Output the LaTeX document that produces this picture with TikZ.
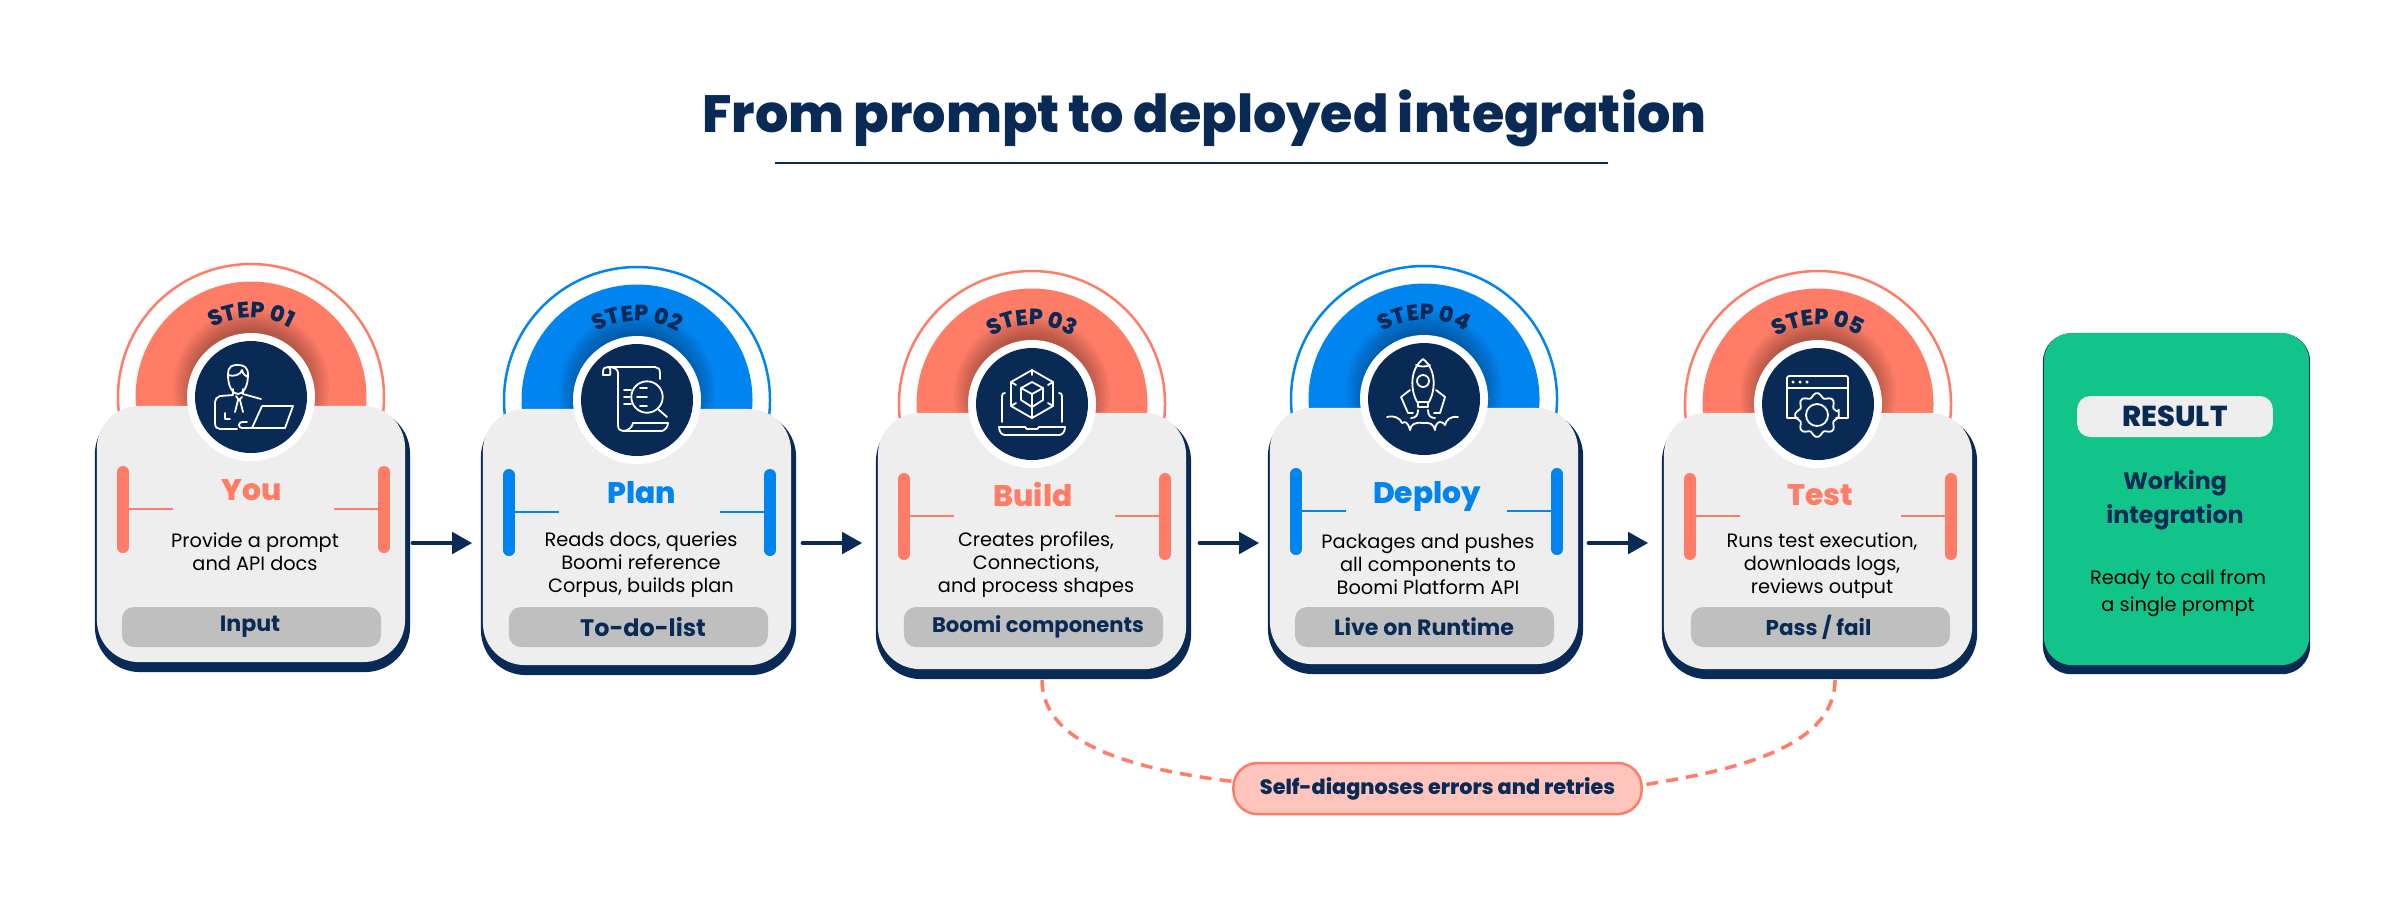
\documentclass[tikz,border=0pt]{standalone}
\usepackage{fontspec}
\setmainfont{Poppins}
\newfontfamily\pxb{Poppins ExtraBold}
\newfontfamily\pbd{Poppins Bold}
\newcommand\titlefont{\pxb\fontsize{14.9pt}{17pt}\selectfont\spaceskip=.175em\relax}
\usetikzlibrary{arrows.meta,decorations.text,calc}
\definecolor{navy}{HTML}{0A2A56}
\definecolor{coral}{HTML}{FF7D67}
\definecolor{sky}{HTML}{0084F0}
\definecolor{cardgray}{HTML}{EEEEEE}
\definecolor{pillgray}{HTML}{BFBFBF}
\definecolor{green1}{HTML}{10C48A}
\definecolor{pink1}{HTML}{FFC4BC}
\tikzset{
  iconline/.style={draw=white,line width=.018cm,line cap=round,line join=round},
  cardbase/.style={fill=cardgray,minimum width=3.08cm,minimum height=2.56cm,rounded corners=.42cm,inner sep=0pt},
  cardback/.style={fill=navy,minimum width=3.15cm,minimum height=2.63cm,rounded corners=.45cm,inner sep=0pt},
  barline/.style={line width=.12cm,line cap=round},
  tickline/.style={line width=.025cm},
  flow/.style={draw=navy,line width=.045cm,line cap=round,-{Triangle[length=.2cm,width=.21cm]}},
  retry/.style={draw=coral,line width=.035cm,dash pattern=on 3.4pt off 2.3pt},
  tagpill/.style={fill=pillgray,minimum width=2.59cm,minimum height=.40cm,rounded corners=.12cm,inner sep=0pt},
  tagtext/.style={text=navy,inner sep=0pt,font=\pbd\fontsize{#1}{7pt}\selectfont},
  headline/.style={anchor=base,inner sep=0pt,font=\pxb\fontsize{8.45pt}{9pt}\selectfont},
  bodytext/.style={align=center,text=black,font=\fontsize{5.5pt}{6.55pt}\selectfont,inner sep=0pt},
}
\newcommand\iconperson{%
  \draw[iconline] (-23,-22) .. controls (-23,-32) and (-18,-32) .. (-13,-32) .. controls (-7,-32) and (-3,-30) .. (-3,-22) .. controls (-3,-10) and (-8,-3) .. (-13,-3) .. controls (-18,-3) and (-23,-10) .. (-23,-22);
  \draw[iconline] (-23,-22) .. controls (-18,-20) and (-10,-22) .. (-9,-27) .. controls (-8,-22) and (-5,-21) .. (-3,-20);
  \draw[iconline] (-18,-8) -- (-18,-2) -- (-31,-1) .. controls (-34,0) and (-36,2) .. (-36,5) -- (-36,26) .. controls (-36,30) and (-34,32) .. (-31,32) -- (-14,32);
  \draw[iconline] (-8,-8) -- (-8,-3) -- (10,2);
  \draw[iconline] (-26,16) -- (-26,22) -- (-21,22);
  \draw[iconline] (-15,-1) -- (-12,3) -- (-9,0) (-13,3) -- (-16,15) (-11,3) -- (-8,15);
  \draw[iconline] (11,9) -- (42,9) -- (34,31) -- (-9,31) .. controls (-13,31) and (-13,25) .. (-9,25) -- (-4,25) (1,31) -- (11,9);
}
\newcommand\iconscroll{%
  \draw[iconline] (-34,-25) -- (-34,-28) .. controls (-34,-32) and (-32,-33) .. (-29,-33) -- (18,-33) .. controls (21,-33) and (23,-31) .. (23,-27) -- (23,-21);
  \draw[iconline] (-34,-25) -- (-27,-25) .. controls (-26,-29) and (-27,-33) .. (-29,-33) (-29,-33) .. controls (-23,-33) and (-19,-31) .. (-19,-27) -- (-19,25) .. controls (-19,29) and (-17,31) .. (-14,31) -- (25,31) .. controls (28,30) and (31,27) .. (31,23) -- (-4,23) .. controls (-5,26) and (-6,30) .. (-14,31);
  \draw[iconline] (10,-3) circle[radius=15.7];
  \draw[iconline] (21,9) -- (30,17);
  \draw[iconline] (3,-12) -- (10,-12) (0,-3) -- (10,-3) (3,6) -- (10,6);
  \draw[iconline] (-13,-10) -- (-6,-10) (-13,-3) -- (-7,-3) (-13,4) -- (-6,4);
}
\newcommand\iconcube{%
  \draw[iconline] (0,-34) -- (21,-22) -- (21,2) -- (0,14) -- (-21,2) -- (-21,-22) -- cycle;
  \draw[iconline] (0,-22) -- (11,-16) -- (11,-4) -- (0,3) -- (-11,-4) -- (-11,-16) -- cycle;
  \draw[iconline] (0,-10) -- (-11,-16) (0,-10) -- (11,-16) (0,-10) -- (0,3);
  \draw[iconline] (0,3) -- (0,14) (0,-34) -- (0,-29) (-21,-22) -- (-16,-19) (21,-22) -- (16,-19) (-21,2) -- (-16,-1) (21,2) -- (16,-1);
  \draw[iconline] (-30,18) -- (-30,-8) .. controls (-30,-10) and (-29,-11) .. (-27,-11);
  \draw[iconline] (30,18) -- (30,-8) .. controls (30,-10) and (29,-11) .. (27,-11);
  \draw[iconline] (-33,23) -- (-7,23) -- (-5,25) -- (5,25) -- (7,23) -- (33,23) .. controls (33,28) and (30,31) .. (27,31) -- (-27,31) .. controls (-30,31) and (-33,28) .. (-33,23) -- cycle;
}
\newcommand\iconrocket{%
  \draw[iconline] (-7,3) .. controls (-14,-10) and (-14,-30) .. (-1,-40) .. controls (12,-30) and (12,-10) .. (5,3) -- cycle;
  \draw[iconline] (-8,-34) .. controls (-4,-32) and (2,-32) .. (6,-34);
  \draw[iconline] (-1,-18) circle[radius=6];
  \draw[iconline] (-6,3) -- (-6,8) -- (4,8) -- (4,3);
  \draw[iconline] (-14,-9) -- (-23,-2) -- (-16,14) -- (-11,14);
  \draw[iconline] (12,-9) -- (21,-2) -- (16,14) -- (10,14);
  \draw[iconline] (-13,19) .. controls (-8,19) and (-6,16) .. (-6,11);
  \draw[iconline] (4,11) .. controls (4,16) and (6,19) .. (11,19);
  \draw[iconline] (-37,18) .. controls (-30,16) and (-24,19) .. (-22,24) .. controls (-19,22) and (-16,23) .. (-14,31) .. controls (-13,25) and (-9,23) .. (-1,24) .. controls (5,23) and (10,25) .. (11,31) .. controls (11,26) and (14,23) .. (16,23) .. controls (18,23) and (20,24) .. (21,26) .. controls (22,21) and (26,17) .. (34,18);
}
\newcommand\icongear{%
  \draw[iconline] (-20,14) -- (-31,14) -- (-31,-26) .. controls (-31,-27) and (-30,-28) .. (-29,-28) -- (28,-28) .. controls (29,-28) and (30,-27) .. (30,-26) -- (30,14) -- (18,14);
  \draw[iconline] (-31,-16) -- (30,-16);
  \fill[white] (-25,-22) circle[radius=1.7] (-18,-22) circle[radius=1.7] (-11,-22) circle[radius=1.7];
  \draw[iconline] (-1,11) circle[radius=11];
  \begin{scope}[shift={(-1,11)}]
    \draw[iconline,rounded corners=.02cm] (-9:22) \foreach \a in {0,45,...,315} { -- (\a+9:22) -- (\a+14:18) -- (\a+31:18) -- (\a+36:22)} -- cycle;
  \end{scope}
}
% #1 id, #2 cx, #3 cy, #4 colour, #5 step label, #6 icon
\newcommand\stepframe[6]{%
  \begin{scope}[shift={(#2,#3)}]
    \begin{scope}
      \clip (-145,-145) rectangle (145,25);
      \draw[#4,line width=.025cm] (0,0) circle[radius=133];
    \end{scope}
    \begin{scope}
      \clip (-125,-125) rectangle (125,10);
      \fill[#4] (0,0) circle[radius=115.5];
      \foreach \r in {58,60.5,...,79} {\fill[black,opacity=.035] (0,-10) circle[radius=\r];}
    \end{scope}
    \path[postaction={decorate},decoration={text along path,text align=center,
      text={|\color{navy}\pxb\fontsize{6.3pt}{7pt}\selectfont|#5}}]
      (-79,0) arc[start angle=180,end angle=0,radius=.79cm];
    \node[cardback] (sh#1) at (1.5,143.5) {};
    \node[cardbase] (card#1) at (0,137) {};
    \fill[white] (0,0) circle[radius=64];
    \fill[navy] (0,0) circle[radius=56];
    #6
    \draw[barline,#4] (-128,75) -- (-128,150) (133,75) -- (133,150);
    \draw[tickline,#4] (-128,112) -- (-78,112) (133,112) -- (83,112);
  \end{scope}
}
\begin{document}
\begin{tikzpicture}[x=.01cm,y=-.01cm]
\useasboundingbox (0,0) rectangle (2398,917);
\fill[white] (0,0) rectangle (2398,917);

\node[anchor=base,text=navy,font=\titlefont,inner sep=0pt] (title) at (1204.5,132) {From prompt to deployed integration};
\draw[navy,line width=.022cm] (775,163) -- (1608,163);

\stepframe{1}{251}{397}{coral}{STEP 01}{\iconperson}
\stepframe{2}{637}{400}{sky}{STEP 02}{\iconscroll}
\stepframe{3}{1032}{404}{coral}{STEP 03}{\iconcube}
\stepframe{4}{1424}{399}{sky}{STEP 04}{\iconrocket}
\stepframe{5}{1818}{404}{coral}{STEP 05}{\icongear}

\node[headline,text=coral] (t1) at (252,500) {You};
\node[headline,text=sky] (t2) at (642,503) {Plan};
\node[headline,text=coral] (t3) at (1033,506) {Build};
\node[headline,text=sky] (t4) at (1427,503) {Deploy};
\node[headline,text=coral] (t5) at (1820,505.5) {Test};

\node[bodytext] (b1) at (255,551.5) {Provide a prompt\\and API docs};
\node[bodytext] (b2) at (641,565) {Reads docs, queries\\Boomi reference\\Corpus, builds plan};
\node[bodytext] (b3) at (1036,565) {Creates profiles,\\Connections,\\and process shapes};
\node[bodytext] (b4) at (1428,564) {Packages and pushes\\all components to\\Boomi Platform API};
\node[bodytext] (b5) at (1822,565.5) {Runs test execution,\\downloads logs,\\reviews output};

\node[tagpill] (p1) at (251.5,627) {};
\node[tagpill] (p2) at (638.5,627) {};
\node[tagpill] (p3) at (1033.5,627) {};
\node[tagpill] (p4) at (1424.5,627) {};
\node[tagpill] (p5) at (1820.5,627) {};
\node[tagtext=6.3pt] (q1) at (250,627) {Input};
\node[tagtext=6.8pt] (q2) at (643,627) {To-do-list};
\node[tagtext=6pt] (q3) at (1038,627) {Boomi components};
\node[tagtext=6.3pt] (q4) at (1424,627) {Live on Runtime};
\node[tagtext=6.1pt] (q5) at (1818.5,627) {Pass / fail};

\node[fill=navy,minimum width=2.67cm,minimum height=3.405cm,rounded corners=.28cm,inner sep=0pt] (resback) at (2176.5,503.8) {};
\node[fill=green1,minimum width=2.65cm,minimum height=3.32cm,rounded corners=.28cm,inner sep=0pt] (res) at (2176.5,499) {};
\node[fill=cardgray,minimum width=1.955cm,minimum height=.41cm,rounded corners=.13cm,inner sep=0pt,text=navy,font=\pxb\fontsize{8.2pt}{9pt}\selectfont] (restag) at (2175,416.5) {RESULT};
\node[text=navy,align=center,inner sep=0pt,font=\pbd\fontsize{6.75pt}{9.7pt}\selectfont] (restitle) at (2175,500) {Working\\integration};
\node[text=black,align=center,inner sep=0pt,font=\fontsize{5.5pt}{7.7pt}\selectfont] (resbody) at (2178,593) {Ready to call from\\a single prompt};

\draw[flow] ([shift={(2,2.5)}]sh1.east) -- ([shift={(-8,-.5)}]sh2.west);
\draw[flow] ([shift={(6,-.5)}]sh2.east) -- ([shift={(-13,-4.5)}]sh3.west);
\draw[flow] ([shift={(8,-4.5)}]sh3.east) -- ([shift={(-8,.5)}]sh4.west);
\draw[flow] ([shift={(5,.5)}]sh4.east) -- ([shift={(-13,-4.5)}]sh5.west);

\node[draw=coral,line width=.025cm,fill=pink1,minimum width=4.08cm,minimum height=.51cm,rounded corners=.24cm,inner sep=0pt,text=navy,font=\pxb\fontsize{5.9pt}{7pt}\selectfont] (retrynode) at (1437.5,788.5) {Self-diagnoses errors and retries};
\draw[retry] ([shift={(8.5,0)}]sh3.south) .. controls +(0,67) and (1140,770) .. (retrynode.178.5);
\draw[retry] ([shift={(15.5,0)}]sh5.south) .. controls +(0,67) and (1737,770) .. (retrynode.1.5);
\end{tikzpicture}
\end{document}
